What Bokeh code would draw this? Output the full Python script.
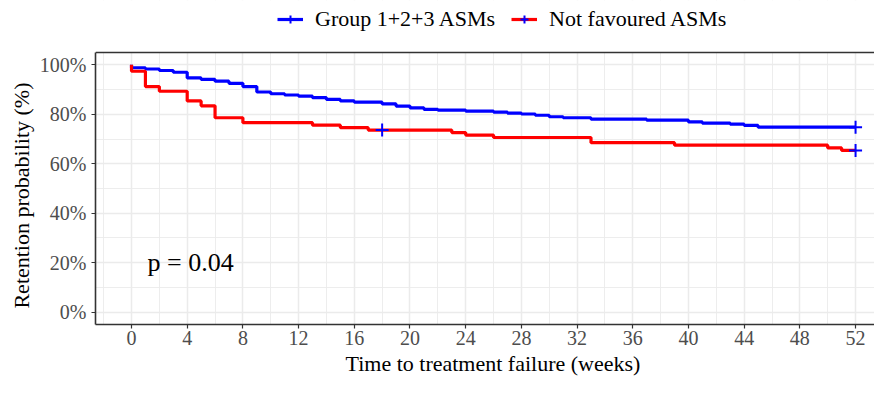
from bokeh.plotting import figure
from bokeh.models import (FixedTicker, LinearAxis, Legend, LegendItem, Grid, Span,
                          BoxAnnotation, PrintfTickFormatter, Range1d, Title)
from bokeh.core.properties import value
from bokeh.embed import file_html
from bokeh.resources import INLINE

# ---- data ----
group_labels = ["Group 1+2+3 ASMs", "Not favoured ASMs"]

blue_time = [0, 0, 1, 2, 3, 4, 5, 6, 7, 8, 9, 10, 11, 12, 13, 14, 15, 16, 18, 19,
             20, 21, 22, 24, 26, 27, 28, 29, 30, 31, 33, 37, 40, 41, 43, 44, 45, 52]
blue_surv = [100, 98.8, 98.3, 97.7, 97.0, 94.7, 94.1, 93.4, 92.5, 91.2, 89.0, 88.3,
             87.8, 87.3, 86.7, 86.0, 85.4, 84.9, 84.2, 83.3, 82.6, 82.0, 81.7, 81.3,
             80.9, 80.5, 80.1, 79.6, 79.0, 78.6, 78.0, 77.6, 76.9, 76.4, 76.0, 75.5,
             74.8, 74.8]
blue_cens_time = [52]
blue_cens_surv = [74.8]

red_time = [0, 0, 1, 2, 4, 5, 6, 8, 13, 15, 17, 23, 24, 26, 33, 39, 50, 51, 52]
red_surv = [100, 97.4, 91.2, 89.3, 85.4, 83.4, 78.6, 76.6, 75.6, 74.6, 73.6, 72.6,
            71.6, 70.6, 68.5, 67.5, 66.4, 65.4, 65.4]
red_cens_time = [18, 52]
red_cens_surv = [73.6, 65.4]

x_ticks = list(range(0, 53, 4))
x_minor = list(range(-2, 55, 4))
y_ticks = [0, 20, 40, 60, 80, 100]
y_minor = [10, 30, 50, 70, 90]

p_label = "p = 0.04"
p_pos = (1.15, 20)

x_title = "Time to treatment failure (weeks)"
y_title = "Retention probability (%)"

FONT = "Liberation Serif"
DARK = "#333333"
GRID = "#EBEBEB"
Y_LOW, Y_TOP = -5, 105
Y_CANVAS_TOP = 126.0   # extra room above the panel for the legend

p = figure(width=874, height=378, output_backend="svg", toolbar_location=None,
           x_range=Range1d(-2.586, 53.36), y_range=Range1d(Y_LOW, Y_CANVAS_TOP),
           x_axis_type=None, y_axis_type=None,
           min_border_left=95, min_border_right=0, min_border_top=0,
           min_border_bottom=54)
p.outline_line_color = None
p.background_fill_color = "white"
p.border_fill_color = "white"

xticker = FixedTicker(ticks=x_ticks, minor_ticks=x_minor)
yticker = FixedTicker(ticks=y_ticks, minor_ticks=y_minor)
xaxis = LinearAxis(ticker=xticker)
yaxis = LinearAxis(ticker=yticker, formatter=PrintfTickFormatter(format="%d%%"),
                   bounds=(Y_LOW, Y_TOP))
for ax in (xaxis, yaxis):
    ax.major_label_text_font = FONT
    ax.major_label_text_font_size = "20px"
    ax.major_label_text_color = "#4D4D4D"
    ax.axis_line_color = DARK
    ax.axis_line_width = 1.6
    ax.major_tick_line_color = DARK
    ax.major_tick_line_width = 1.2
    ax.major_tick_out = 4
    ax.major_tick_in = 0
    ax.minor_tick_out = 0
    ax.minor_tick_in = 0
xaxis.major_label_standoff = 2
yaxis.major_label_standoff = 5
p.add_layout(xaxis, "below")
p.add_layout(yaxis, "left")

# axis titles placed to match the reference (panel extends past the image edge)
p.add_layout(Title(text=y_title, align="right", offset=82, standoff=5,
                   text_font=FONT, text_font_size="22px", text_font_style="normal",
                   text_color="black"), "left")
p.add_layout(Title(text=x_title, align="left", offset=250, standoff=2,
                   text_font=FONT, text_font_size="22px", text_font_style="normal",
                   text_color="black"), "below")

for dim, tk in ((0, xticker), (1, yticker)):
    g = Grid(dimension=dim, ticker=tk, grid_line_color=GRID, grid_line_width=1.5,
             minor_grid_line_color=GRID, minor_grid_line_width=0.9, level="underlay")
    p.add_layout(g)

# white area above the panel (legend zone), then the panel's top border
p.add_layout(BoxAnnotation(bottom=Y_TOP, fill_color="white", fill_alpha=1.0,
                           line_color=None, level="underlay"))
p.add_layout(Span(location=Y_TOP, dimension="width", line_color=DARK, line_width=1.6))

blue_line = p.step(blue_time, blue_surv, mode="after", line_color="#0000FF", line_width=3.2)
red_line = p.step(red_time, red_surv, mode="after", line_color="#FF0000", line_width=3.2)
blue_cens = p.scatter(blue_cens_time, blue_cens_surv, marker="cross", size=13,
                      line_color="#0000FF", line_width=2)
red_cens = p.scatter(red_cens_time, red_cens_surv, marker="cross", size=13,
                     line_color="#0000FF", line_width=2)

p.text(x=[p_pos[0]], y=[p_pos[1]], text=[p_label], text_font=value(FONT),
       text_font_size="26px", text_baseline="middle", text_align="left",
       text_color="black")

legend = Legend(items=[LegendItem(label=group_labels[0], renderers=[blue_line, blue_cens]),
                       LegendItem(label=group_labels[1], renderers=[red_line, red_cens])],
                orientation="horizontal", location=(182, 292),
                label_text_font=FONT, label_text_font_size="22px",
                label_text_color="black",
                glyph_width=26, glyph_height=20, label_standoff=12, spacing=16,
                padding=0, margin=0, border_line_color=None,
                background_fill_alpha=0)
p.add_layout(legend, "center")

open("out.html", "w").write(file_html(p, INLINE))
